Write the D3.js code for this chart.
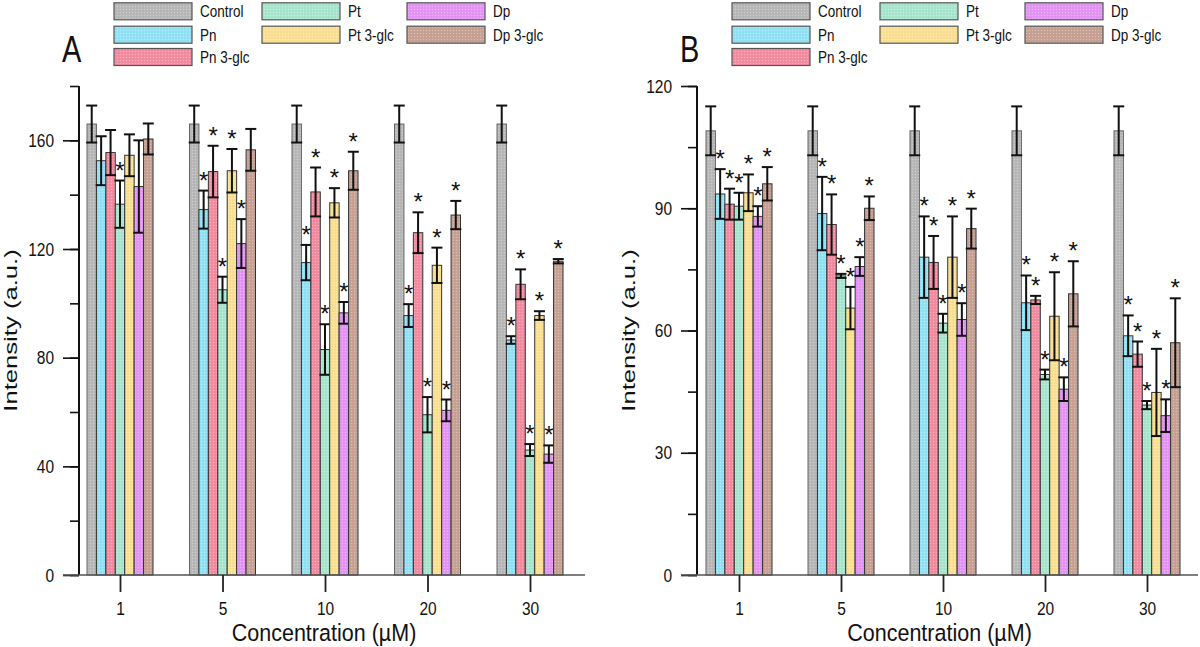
<!DOCTYPE html>
<html>
<head>
<meta charset="utf-8">
<script src="https://cdn.jsdelivr.net/npm/d3@7"></script>
<style>
  body { margin: 0; background: #fff; }
  svg text { font-family: "Liberation Sans", Arial, sans-serif; fill: #111; }
</style>
</head>
<body>
<script>
//Declare consts/global variables
const width = 1200;
const height = 647;
const baseY = 575;
const topY = 86;
const stretch = 1.22; // text in the figure is taller than wide

//Data
const concentrations = ["1", "5", "10", "20", "30"];
const seriesNames = ["Control", "Pn", "Pn 3-glc", "Pt", "Pt 3-glc", "Dp", "Dp 3-glc"];
const seriesColors = ["#b9b9b9", "#93e2f6", "#f48da2", "#a9e7cf", "#fbe193", "#e496f5", "#c8a295"];

// panel A, one row per series, one value per concentration
const meansA = [
  [166, 166, 166, 166, 166],
  [152.5, 134.5, 115, 95.5, 86.5],
  [155.5, 148.5, 141, 126, 107],
  [136.5, 105, 83, 59, 46],
  [154.5, 148.8, 137, 114, 95.5],
  [143, 122, 96.5, 60.6, 44.5],
  [160.5, 156.5, 148.8, 132.5, 115.5]
];
const errorsA = [
  [6.8, 6.8, 6.8, 6.8, 6.8],
  [9, 7, 6.5, 4.2, 1.4],
  [8.3, 9.5, 9, 7.5, 5.5],
  [8.7, 4.8, 9.3, 6.5, 2.2],
  [7.7, 8, 5.4, 6.5, 1.6],
  [17, 9, 4, 4, 3.2],
  [5.7, 7.7, 7, 5.2, 0.8]
];
const starsA = [
  [0, 0, 0, 0, 0],
  [0, 1, 1, 1, 1],
  [0, 1, 1, 1, 1],
  [1, 1, 1, 1, 1],
  [0, 1, 1, 1, 1],
  [0, 1, 1, 1, 1],
  [0, 0, 1, 1, 1]
];

// panel B
const meansB = [
  [109, 109, 109, 109, 109],
  [93.5, 88.7, 78, 66.8, 58.7],
  [91, 86, 76.7, 67.5, 54.2],
  [90.5, 73.4, 61.8, 49.2, 41.7],
  [93.8, 65.5, 78, 63.5, 44.8],
  [88, 75.7, 62.7, 45.6, 39.1],
  [96, 90, 85, 69, 57]
];
const errorsB = [
  [6, 6, 6, 6, 6],
  [6.1, 9, 10, 6.7, 5],
  [3.8, 7.4, 6.5, 1, 3.1],
  [3.3, 0.5, 2.3, 1.2, 1],
  [4.5, 5.2, 10, 10.8, 10.7],
  [2.5, 2.3, 4, 2.9, 4],
  [4.1, 2.9, 4.9, 8, 10.9]
];
const starsB = [
  [0, 0, 0, 0, 0],
  [1, 1, 1, 1, 1],
  [1, 1, 1, 1, 1],
  [1, 1, 1, 1, 1],
  [1, 1, 1, 1, 1],
  [1, 1, 1, 1, 1],
  [1, 1, 1, 1, 1]
];

const yTicksA = [0, 40, 80, 120, 160];
const yTicksB = [0, 30, 60, 90, 120];

//Adding svg
const svg = d3.select("body")
  .append("svg")
  .attr("width", width)
  .attr("height", height);

//Fine dotted texture for the bars
const defs = svg.append("defs");
seriesColors.forEach((c, i) => {
  const p = defs.append("pattern")
    .attr("id", "tex" + i)
    .attr("patternUnits", "userSpaceOnUse")
    .attr("width", 3).attr("height", 3);
  p.append("rect").attr("width", 3).attr("height", 3).attr("fill", c);
  p.append("rect").attr("x", 0).attr("y", 0).attr("width", 1).attr("height", 1)
    .attr("fill", "#fff").attr("opacity", 0.3);
  p.append("rect").attr("x", 1.5).attr("y", 1.5).attr("width", 1).attr("height", 1)
    .attr("fill", "#000").attr("opacity", 0.07);
});

const panels = [
  { label: "A", axisX: 79, xLeft: 63, xRight: 585, cat: [120, 530],
    means: meansA, errors: errorsA, stars: starsA, yMax: 180, ticks: yTicksA, minor: 20 },
  { label: "B", axisX: 697, xLeft: 681, xRight: 1198, cat: [739, 1147],
    means: meansB, errors: errorsB, stars: starsB, yMax: 120, ticks: yTicksB, minor: 15 }
];

function stretchedText(g, x, y, txt, size, anchor) {
  return g.append("text")
    .attr("transform", `translate(${x},${y}) scale(1,${stretch})`)
    .attr("font-size", size)
    .attr("text-anchor", anchor || "start")
    .text(txt);
}

panels.forEach(P => {
  const g = svg.append("g");

  //Scales
  const xScale = d3.scalePoint()
    .domain(concentrations)
    .range(P.cat);
  const inner = d3.scaleBand()
    .domain(seriesNames)
    .range([-33, 33]);
  const yScale = d3.scaleLinear()
    .domain([0, P.yMax])
    .range([baseY, topY]);

  //Bars
  seriesNames.forEach((s, si) => {
    const rows = concentrations.map((c, ci) => ({
      c, m: P.means[si][ci], e: P.errors[si][ci], star: P.stars[si][ci]
    }));
    const sg = g.append("g");
    sg.selectAll("rect")
      .data(rows)
      .join("rect")
      .attr("x", d => xScale(d.c) + inner(s))
      .attr("y", d => yScale(d.m))
      .attr("width", inner.bandwidth())
      .attr("height", d => baseY - yScale(d.m))
      .attr("fill", `url(#tex${si})`)
      .attr("stroke", si === 0 ? "#666" : "#333")
      .attr("stroke-width", 1);

    const cx = d => xScale(d.c) + inner(s) + inner.bandwidth() / 2;
    //Error bars
    const eb = sg.selectAll("g.err")
      .data(rows)
      .join("g")
      .attr("class", "err")
      .attr("stroke", "#111")
      .attr("stroke-width", 2);
    eb.append("line")
      .attr("x1", cx).attr("x2", cx)
      .attr("y1", d => yScale(d.m + d.e))
      .attr("y2", d => yScale(d.m - d.e));
    [1, -1].forEach(sign => {
      eb.append("line")
        .attr("x1", d => cx(d) - 5.5).attr("x2", d => cx(d) + 5.5)
        .attr("y1", d => yScale(d.m + sign * d.e))
        .attr("y2", d => yScale(d.m + sign * d.e));
    });
    //Significance stars
    sg.selectAll("text.star")
      .data(rows.filter(d => d.star))
      .join("text")
      .attr("class", "star")
      .attr("x", cx)
      .attr("y", d => yScale(d.m + d.e) - 2)
      .attr("text-anchor", "middle")
      .attr("font-size", 24)
      .text("*");
  });

  //Axes - y, minor then major
  g.append("g")
    .attr("transform", `translate(${P.axisX},0)`)
    .call(d3.axisLeft(yScale)
      .tickValues(d3.range(0, P.yMax + 0.1, P.minor))
      .tickSize(9).tickFormat(""))
    .call(a => a.select(".domain").remove())
    .call(a => a.selectAll("line").attr("stroke", "#111").attr("stroke-width", 1.6));

  g.append("g")
    .attr("transform", `translate(${P.axisX},0)`)
    .call(d3.axisLeft(yScale)
      .tickValues(P.ticks)
      .tickSize(16).tickPadding(9))
    .call(a => a.select(".domain").remove())
    .call(a => a.selectAll("line").attr("stroke", "#111").attr("stroke-width", 1.6))
    .call(a => a.selectAll("text")
      .attr("font-size", 15.5)
      .attr("font-family", "Liberation Sans, Arial, sans-serif")
      .attr("fill", "#111")
      .attr("transform", `scale(1,${stretch})`));

  g.append("line")
    .attr("x1", P.axisX).attr("x2", P.axisX)
    .attr("y1", topY).attr("y2", baseY)
    .attr("stroke", "#111").attr("stroke-width", 2);

  //Axes - x
  g.append("line")
    .attr("x1", P.xLeft).attr("x2", P.xRight)
    .attr("y1", baseY).attr("y2", baseY)
    .attr("stroke", "#555").attr("stroke-width", 1.6);

  g.append("g")
    .attr("transform", `translate(0,${baseY})`)
    .call(d3.axisBottom(xScale).tickSize(17).tickSizeOuter(0))
    .call(a => a.select(".domain").remove())
    .call(a => a.selectAll("line").attr("stroke", "#222").attr("stroke-width", 1.8))
    .call(a => a.selectAll("text")
      .attr("font-size", 15.5)
      .attr("font-family", "Liberation Sans, Arial, sans-serif")
      .attr("fill", "#111")
      .attr("y", 40 / stretch)
      .attr("dy", 0)
      .attr("transform", `scale(1,${stretch})`));

  //Axis titles
  g.append("text")
    .attr("transform", `translate(${(P.xLeft + P.xRight) / 2},641) scale(1.05,1.15)`)
    .attr("text-anchor", "middle")
    .attr("font-size", 20.5)
    .text("Concentration (\u00b5M)");

  g.append("text")
    .attr("transform", `translate(${P.axisX - 62},${(topY + baseY) / 2}) rotate(-90) scale(1.35,1)`)
    .attr("text-anchor", "middle")
    .attr("font-size", 19)
    .text("Intensity (a.u.)");

  //Panel letter
  g.append("text")
    .attr("transform", `translate(${P.axisX - 17},62) scale(1,1.26)`)
    .attr("font-size", 29)
    .text(P.label);

  //Legend
  const colX = [35, 183, 328];
  const rowY = [11.3, 34.7, 57];
  const slots = [[0, 0], [0, 1], [0, 2], [1, 0], [1, 1], [2, 0], [2, 1]];
  seriesNames.forEach((s, si) => {
    const [c, r] = slots[si];
    const lx = P.axisX + colX[c];
    const ly = rowY[r];
    g.append("rect")
      .attr("x", lx).attr("y", ly - 8.5)
      .attr("width", 78).attr("height", 17)
      .attr("fill", `url(#tex${si})`)
      .attr("stroke", "#555").attr("stroke-width", 1.2);
    stretchedText(g, lx + 86, ly + 5.8, s, 13.5);
  });
});
</script>
</body>
</html>
